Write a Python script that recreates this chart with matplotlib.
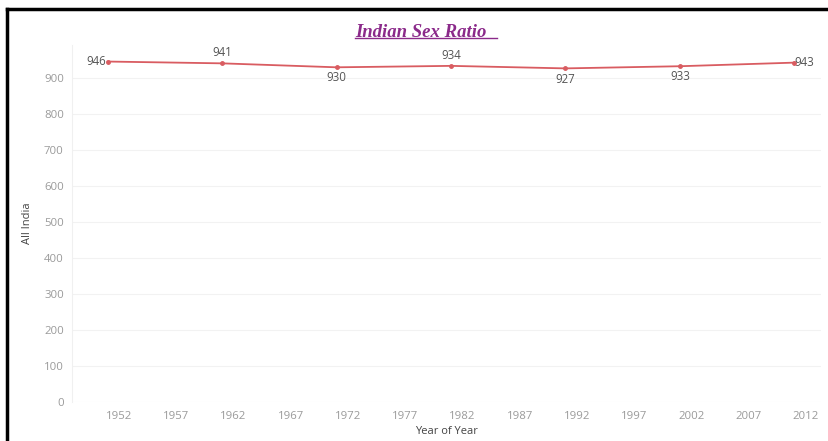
import matplotlib.pyplot as plt
from matplotlib.lines import Line2D

years = [1951, 1961, 1971, 1981, 1991, 2001, 2011]
sex_ratio = [946, 941, 930, 934, 927, 933, 943]
x_ticks = list(range(1952, 2013, 5))
y_ticks = list(range(0, 1000, 100))
label_pos = ["left", "above", "below", "above", "below", "below", "right"]

fig = plt.figure(figsize=(8.29, 4.41), dpi=100)
ax = fig.add_axes([0.087, 0.088, 0.903, 0.81])

ax.plot(years, sex_ratio, color="#d95c61", linewidth=1.3, marker="o",
        markersize=2.5, zorder=3)

for x, y, pos in zip(years, sex_ratio, label_pos):
    if pos == "left":
        ax.annotate(str(y), (x, y), xytext=(-1, 0), textcoords="offset points",
                    ha="right", va="center", fontsize=8.3, color="#555555",
                    family="Open Sans")
    elif pos == "right":
        ax.annotate(str(y), (x, y), xytext=(0, 0), textcoords="offset points",
                    ha="left", va="center", fontsize=8.3, color="#555555",
                    family="Open Sans")
    elif pos == "above":
        ax.annotate(str(y), (x, y), xytext=(0, 3), textcoords="offset points",
                    ha="center", va="bottom", fontsize=8.3, color="#555555",
                    family="Open Sans")
    else:
        ax.annotate(str(y), (x, y), xytext=(0, -3), textcoords="offset points",
                    ha="center", va="top", fontsize=8.3, color="#555555",
                    family="Open Sans")

ax.set_xlim(1947.9, 2013.3)
ax.set_ylim(0, 992)
ax.set_xticks(x_ticks)
ax.set_xticklabels([str(t) for t in x_ticks])
ax.set_yticks(y_ticks)
ax.set_yticklabels([str(t) for t in y_ticks])
ax.tick_params(length=0, labelsize=8.2, labelcolor="#9a9a9a", pad=6)
for lab in ax.get_xticklabels() + ax.get_yticklabels():
    lab.set_family("Open Sans")

ax.grid(axis="y", color="#f2f2f2", linewidth=0.8)
ax.set_axisbelow(True)
for side in ["top", "right", "bottom"]:
    ax.spines[side].set_visible(False)
ax.spines["left"].set_color("#f0f0f0")

ax.set_ylabel("All India", fontsize=8, color="#444444", family="Open Sans",
              labelpad=8)
ax.set_xlabel("Year of Year", fontsize=8, color="#444444", family="Open Sans",
              labelpad=3)

# title with underline
title = fig.text(0.508, 0.927, "Indian Sex Ratio", ha="center", va="center",
                 fontsize=13.5, fontweight="bold", fontstyle="italic",
                 family="Liberation Serif", color="#8b2a8a")
fig.canvas.draw()
bb = title.get_window_extent().transformed(fig.transFigure.inverted())
fig.add_artist(Line2D([bb.x0, bb.x1 + 0.012], [bb.y0 + 0.007, bb.y0 + 0.007],
                      color="#8b2a8a", linewidth=1.0))

# border of the document frame (left and top only visible)
fig.add_artist(Line2D([0.009, 0.009], [0.0, 0.98], color="black", linewidth=2.5))
fig.add_artist(Line2D([0.008, 1.0], [0.98, 0.98], color="black", linewidth=2.5))

fig.savefig("out.png", dpi=100)
